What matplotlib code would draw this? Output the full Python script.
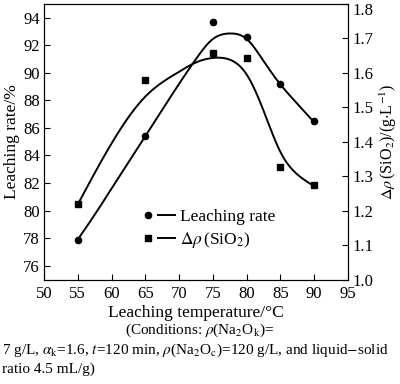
import numpy as np
import matplotlib
matplotlib.use("Agg")
import matplotlib.pyplot as plt
import matplotlib.transforms as mtransforms
from matplotlib.lines import Line2D
from matplotlib.legend_handler import HandlerTuple

# measured points
temps = [55, 65, 75, 80, 85, 90]
leach_rate = [77.9, 85.4, 93.7, 92.6, 89.15, 86.5]
delta_rho = [1.219, 1.58, 1.657, 1.643, 1.328, 1.273]

# fitted curves
leach_curve_t = [55, 57.5, 60, 65, 70, 72.5, 75, 77.5, 80, 82.5, 85, 87.5, 90]
leach_curve_v = [77.9, 79.7, 81.6, 85.4, 89.2, 91.0, 92.45, 92.85, 92.45, 90.85, 89.15, 87.75, 86.4]
rho_curve_t = [55, 57.5, 60, 65, 70, 72.5, 75, 77.5, 80, 82.5, 85, 87.5, 90]
rho_curve_v = [1.218, 1.309, 1.395, 1.531, 1.603, 1.630, 1.643, 1.638, 1.595, 1.49, 1.37, 1.305, 1.271]

x_ticks = [50, 55, 60, 65, 70, 75, 80, 85, 90, 95]
left_ticks = [76, 78, 80, 82, 84, 86, 88, 90, 92, 94]
right_ticks = [1.0, 1.1, 1.2, 1.3, 1.4, 1.5, 1.6, 1.7, 1.8]


def natural_spline(x, y, n=300):
    x = np.asarray(x, float); y = np.asarray(y, float)
    k = len(x); h = np.diff(x)
    A = np.zeros((k, k)); b = np.zeros(k)
    A[0, 0] = A[-1, -1] = 1
    for i in range(1, k - 1):
        A[i, i - 1] = h[i - 1]; A[i, i] = 2 * (h[i - 1] + h[i]); A[i, i + 1] = h[i]
        b[i] = 3 * ((y[i + 1] - y[i]) / h[i] - (y[i] - y[i - 1]) / h[i - 1])
    c = np.linalg.solve(A, b)
    xs = np.linspace(x[0], x[-1], n); ys = np.empty_like(xs)
    for j, xv in enumerate(xs):
        i = min(np.searchsorted(x, xv, side='right') - 1, k - 2)
        d = xv - x[i]
        bb = (y[i + 1] - y[i]) / h[i] - h[i] * (2 * c[i] + c[i + 1]) / 3
        dd = (c[i + 1] - c[i]) / (3 * h[i])
        ys[j] = y[i] + bb * d + c[i] * d ** 2 + dd * d ** 3
    return xs, ys


plt.rcParams['font.family'] = ['Liberation Serif', 'DejaVu Serif']
plt.rcParams['mathtext.fontset'] = 'stix'
plt.rcParams['font.size'] = 11

fig = plt.figure(figsize=(4.0, 3.84), dpi=100)
ax = fig.add_axes([0.11, 0.272, 0.76, 0.718])
ax2 = ax.twinx()

xs, ys = natural_spline(leach_curve_t, leach_curve_v)
ax.plot(xs, ys, color='black', lw=1.4)
ax.plot(temps, leach_rate, 'o', color='black', ms=4.5, linestyle='none')
xs2, ys2 = natural_spline(rho_curve_t, rho_curve_v)
ax2.plot(xs2, ys2, color='black', lw=1.4)
ax2.plot(temps, delta_rho, 's', color='black', ms=4.5, linestyle='none')

ax.set_xlim(50, 95)
ax.set_ylim(75, 95)
ax2.set_ylim(1.0, 1.8)
ax.set_xticks(x_ticks)
ax.set_yticks(left_ticks)
ax2.set_yticks(right_ticks)
ax2.set_yticklabels([f"{v:.1f}" for v in right_ticks])
ax.tick_params(direction='in', length=4, width=0.8, labelsize=12, pad=3)
ax2.tick_params(direction='in', length=4, width=0.8, labelsize=12, pad=3)
ax.tick_params(axis='x', pad=5)

# nudge the top right tick label down so it stays inside the figure
top_lab = ax2.get_yticklabels()[-1]
top_lab.set_transform(top_lab.get_transform() +
                      mtransforms.ScaledTranslation(0, -4 / 72, fig.dpi_scale_trans))

ax.set_ylabel('Leaching rate/%', fontsize=12.5, labelpad=2)
ax2.set_ylabel(r'$\Delta\rho\,$(SiO$_2$)/(g$\cdot$L$^{-1}$)', fontsize=11.5)
ax2.yaxis.set_label_coords((378 - 44) / 304, 0.5)
ax.set_xlabel('Leaching temperature/°C', fontsize=12.5, labelpad=2)

# legend: marker followed by a short line
mk_o = Line2D([], [], color='black', marker='o', ms=4.5, linestyle='none')
mk_s = Line2D([], [], color='black', marker='s', ms=4.5, linestyle='none')
ln = Line2D([], [], color='black', lw=1.4)
leg = ax.legend([(mk_o, ln), (mk_s, ln)], ['Leaching rate', r'$\Delta\rho\,$(SiO$_2$)'],
                handler_map={tuple: HandlerTuple(ndivide=None, pad=0.1)},
                loc='lower left', bbox_to_anchor=(0.287, 0.077), frameon=False, fontsize=12.5,
                handlelength=2.0, handletextpad=0.3, labelspacing=0.25, borderpad=0)

fig.text(0.5, 1 - 330 / 384, r'(Conditions: $\rho$(Na$_2$O$_{\rm k}$)=', ha='center', va='center', fontsize=11)
fig.text(0.005, 1 - 350 / 384, r'7 g/L, $\alpha_{\rm k}$=1.6, $t$=120 min, $\rho$(Na$_2$O$_{\rm c}$)=120 g/L, and liquid$-$solid',
         ha='left', va='center', fontsize=11)
fig.text(0.005, 1 - 369 / 384, 'ratio 4.5 mL/g)', ha='left', va='center', fontsize=11)

fig.savefig('out.png', dpi=100)
